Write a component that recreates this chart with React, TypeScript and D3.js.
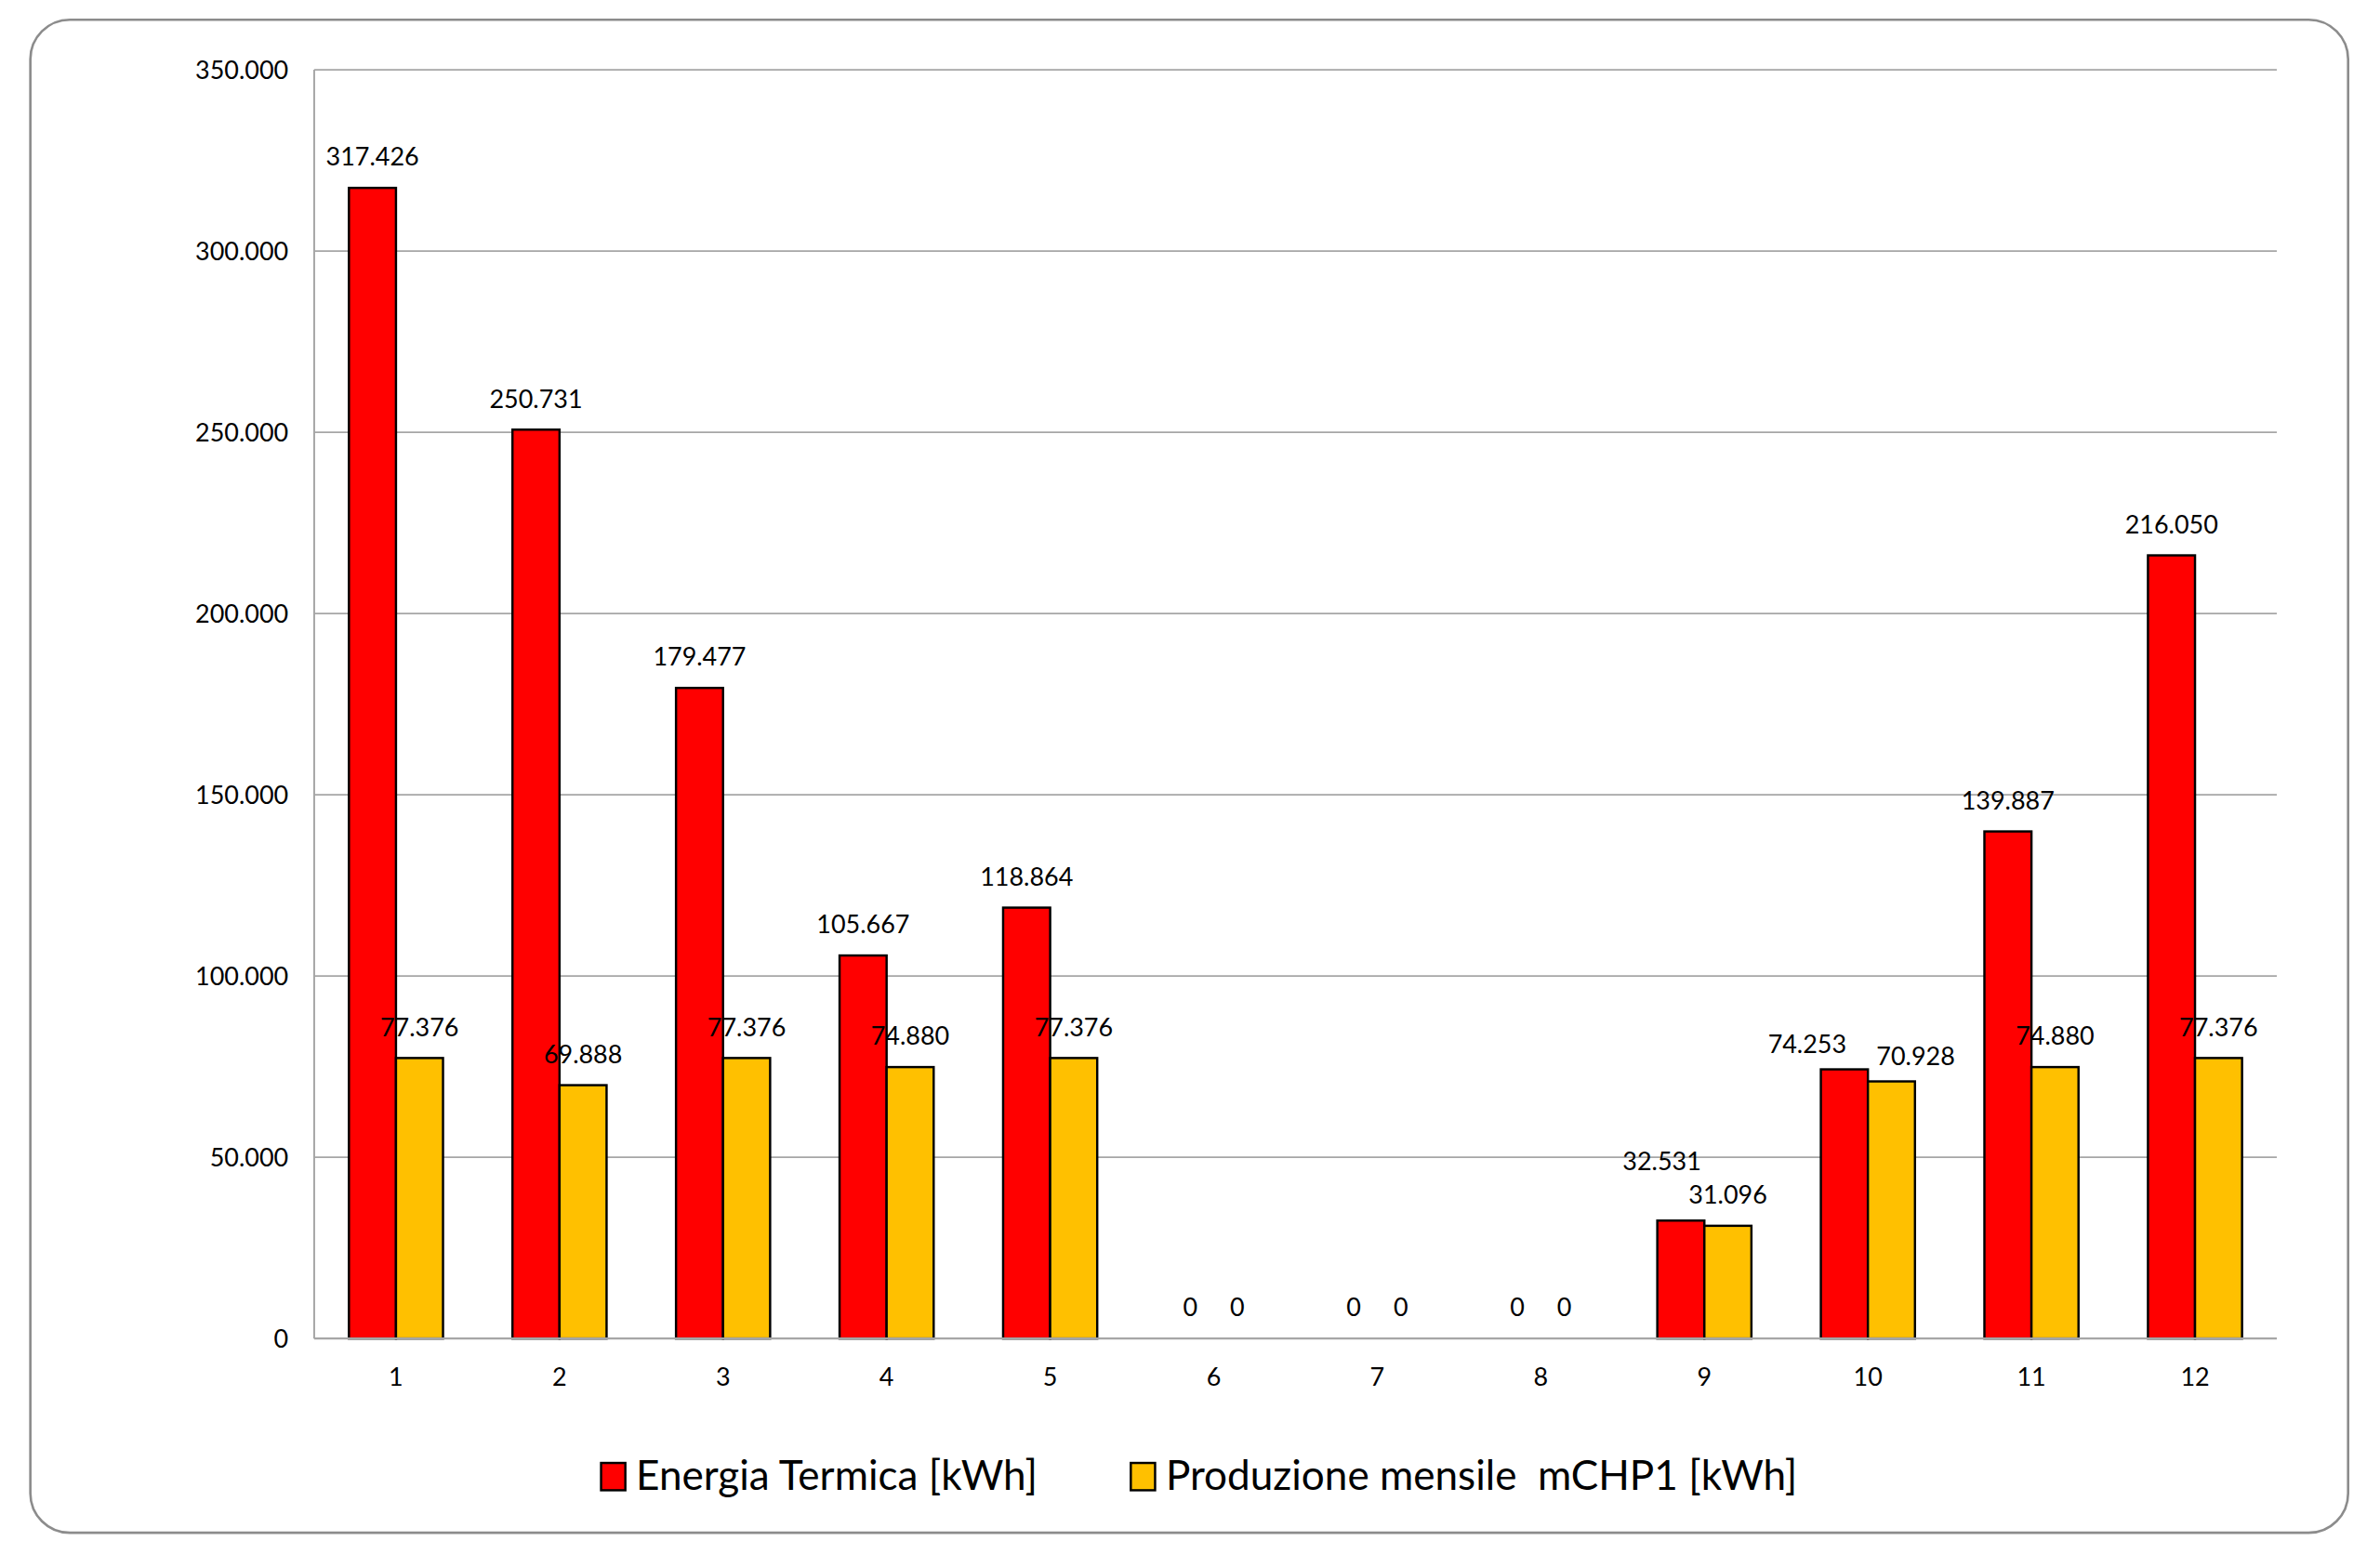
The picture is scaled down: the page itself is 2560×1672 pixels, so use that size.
import React from "react";
import * as d3 from "d3";

const categories = ["1", "2", "3", "4", "5", "6", "7", "8", "9", "10", "11", "12"];
const energiaTermica = [317426, 250731, 179477, 105667, 118864, 0, 0, 0, 32531, 74253, 139887, 216050];
const produzioneMCHP1 = [77376, 69888, 77376, 74880, 77376, 0, 0, 0, 31096, 70928, 74880, 77376];
const yTicks = [0, 50000, 100000, 150000, 200000, 250000, 300000, 350000];
const seriesNames = ["Energia Termica [kWh]", "Produzione mensile\u00a0\u00a0mCHP1 [kWh]"];
const seriesColors = ["#FF0000", "#FFC000"];

// manual label nudges (layout only), keyed "series-index"
const labelNudge: Record<string, [number, number]> = {
  "0-8": [-12.5, -18.5],
  "0-9": [-24.5, 4],
  "1-9": [16, 4],
};

const W = 1568;
const H = 1024;
const FONT = "Lato, 'Open Sans', sans-serif";

const fmt = (v: number) => {
  if (v === 0) return "0";
  const s = Math.round(v).toString();
  return s.replace(/\B(?=(\d{3})+(?!\d))/g, ".");
};

export default function App() {
  const left = 207, right = 1500, top = 46, bottom = 882;
  const x = d3.scaleBand<string>().domain(categories).range([left, right]).paddingInner(0).paddingOuter(0);
  const y = d3.scaleLinear().domain([0, 350000]).range([bottom, top]);
  const barW = 31;
  const series = [energiaTermica, produzioneMCHP1];

  return (
    <svg
      width={2560}
      height={1672}
      viewBox={`0 0 ${W} ${H}`}
      preserveAspectRatio="none"
      style={{ position: "absolute", left: 0, top: 0, background: "#fff" }}
      fontFamily={FONT}
    >
      <rect x={0} y={0} width={W} height={H} fill="#fff" />
      <rect x={20} y={13} width={1527} height={997} rx={26} ry={26} fill="#fff" stroke="#8c8c8c" strokeWidth={1.6} />
      {/* gridlines */}
      {yTicks.map((t) => (
        <line key={t} x1={left} x2={right} y1={y(t)} y2={y(t)} stroke="#a6a6a6" strokeWidth={1.2} />
      ))}
      <line x1={left} x2={left} y1={top} y2={bottom} stroke="#a6a6a6" strokeWidth={1.2} />
      {yTicks.map((t) => (
        <text key={"l" + t} x={190} y={y(t)} dy="0.36em" textAnchor="end" fontSize={16.5} fill="#000">
          {fmt(t)}
        </text>
      ))}
      {/* bars */}
      {series.map((vals, si) =>
        vals.map((v, i) => {
          const cx = (x(categories[i]) as number) + x.bandwidth() / 2;
          const bx = cx - barW + si * barW;
          return v > 0 ? (
            <rect key={`b${si}-${i}`} x={bx} y={y(v)} width={barW} height={bottom - y(v)} fill={seriesColors[si]} stroke="#000" strokeWidth={1.5} />
          ) : null;
        })
      )}
      {/* baseline */}
      <line x1={left} x2={right} y1={bottom} y2={bottom} stroke="#a6a6a6" strokeWidth={1.4} />
      {/* data labels */}
      {series.map((vals, si) =>
        vals.map((v, i) => {
          const cx = (x(categories[i]) as number) + x.bandwidth() / 2;
          const nudge = labelNudge[`${si}-${i}`] || [0, 0];
          const lx = cx - barW / 2 + si * barW + nudge[0];
          return (
            <text key={`t${si}-${i}`} x={lx} y={y(v) - 14.5 + nudge[1]} textAnchor="middle" fontSize={16.5} fill="#000">
              {fmt(v)}
            </text>
          );
        })
      )}
      {/* x labels */}
      {categories.map((c) => (
        <text key={"x" + c} x={(x(c) as number) + x.bandwidth() / 2} y={913} textAnchor="middle" fontSize={16.5} fill="#000">
          {c}
        </text>
      ))}
      {/* legend */}
      {[396, 745].map((lx, i) => (
        <g key={"lg" + i}>
          <rect x={lx} y={964} width={16} height={18} fill={seriesColors[i]} stroke="#000" strokeWidth={1.5} />
          <text x={lx + 23} y={982} fontSize={27} fill="#000">
            {seriesNames[i]}
          </text>
        </g>
      ))}
    </svg>
  );
}
